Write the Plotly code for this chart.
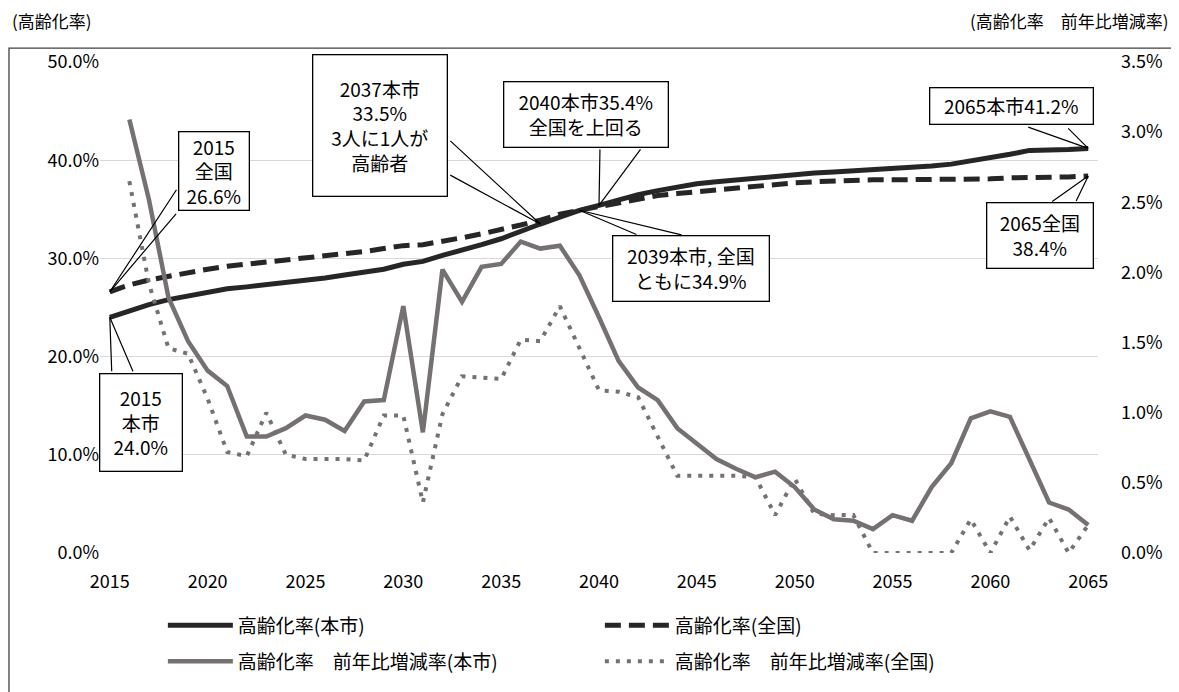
import plotly.graph_objects as go

years = list(range(2015, 2066))
change_years = list(range(2016, 2066))

# 高齢化率 (本市) %
city_rate = [24.0, 24.7, 25.3, 25.8, 26.2, 26.5, 26.9, 27.1, 27.3, 27.5,
             27.8, 28.0, 28.3, 28.6, 28.9, 29.4, 29.7, 30.3, 30.8, 31.4,
             32.0, 32.8, 33.5, 34.2, 34.9, 35.4, 36.0, 36.5, 36.9, 37.3,
             37.6, 37.8, 38.0, 38.2, 38.4, 38.5, 38.7, 38.8, 38.9, 39.0,
             39.1, 39.2, 39.4, 39.6, 39.9, 40.3, 40.6, 41.0, 41.0, 41.1,
             41.2]
# 高齢化率 (全国) %
nation_rate = [26.6, 27.3, 27.8, 28.2, 28.6, 28.9, 29.2, 29.4, 29.7, 29.9,
               30.1, 30.3, 30.5, 30.7, 31.0, 31.3, 31.4, 31.7, 32.1, 32.5,
               32.9, 33.4, 33.9, 34.5, 34.9, 35.3, 35.7, 36.1, 36.4, 36.6,
               36.8, 37.0, 37.2, 37.4, 37.5, 37.7, 37.8, 37.9, 38.0, 38.0,
               38.0, 38.0, 38.0, 38.0, 38.1, 38.1, 38.2, 38.2, 38.3, 38.3,
               38.4]
# 前年比増減率 (本市) %
city_change = [3.09, 2.52, 1.82, 1.51, 1.30, 1.19, 0.83, 0.83, 0.89, 0.98,
               0.95, 0.87, 1.08, 1.09, 1.76, 0.86, 2.02, 1.79, 2.04, 2.06,
               2.22, 2.17, 2.19, 1.98, 1.68, 1.37, 1.18, 1.09, 0.89, 0.78,
               0.67, 0.60, 0.54, 0.58, 0.47, 0.31, 0.24, 0.23, 0.17, 0.27,
               0.23, 0.47, 0.64, 0.96, 1.01, 0.97, 0.66, 0.36, 0.31, 0.20]
# 前年比増減率 (全国) %
nation_change = [2.65, 1.92, 1.46, 1.42, 1.10, 0.72, 0.69, 1.00, 0.70, 0.67,
                 0.67, 0.67, 0.66, 0.98, 0.98, 0.36, 0.99, 1.26, 1.25, 1.24,
                 1.52, 1.51, 1.76, 1.46, 1.16, 1.15, 1.11, 0.83, 0.55, 0.55,
                 0.55, 0.55, 0.54, 0.27, 0.53, 0.28, 0.27, 0.27, 0.00, 0.00,
                 0.00, 0.00, 0.00, 0.24, 0.00, 0.26, 0.02, 0.25, 0.00, 0.20]

left_ticks = [0, 10, 20, 30, 40, 50]
left_labels = ["0.0%", "10.0%", "20.0%", "30.0%", "40.0%", "50.0%"]
right_ticks = [0, 0.5, 1.0, 1.5, 2.0, 2.5, 3.0, 3.5]
right_labels = ["0.0%", "0.5%", "1.0%", "1.5%", "2.0%", "2.5%", "3.0%", "3.5%"]
x_ticks = list(range(2015, 2070, 5))

names = ["高齢化率(本市)", "高齢化率(全国)",
         "高齢化率　前年比増減率(本市)", "高齢化率　前年比増減率(全国)"]

FONT = "Noto Sans CJK JP, Noto Sans, sans-serif"
BLACK = "#262626"
GRAY = "#767171"

fig = go.Figure()
fig.add_trace(go.Scatter(x=years, y=city_rate, name=names[0], mode="lines",
                         legend="legend", line=dict(color=BLACK, width=5)))
fig.add_trace(go.Scatter(x=years, y=nation_rate, name=names[1], mode="lines",
                         legend="legend", line=dict(color=BLACK, width=5, dash="16px,8px")))
fig.add_trace(go.Scatter(x=change_years, y=city_change, name=names[2], mode="lines",
                         legend="legend2", yaxis="y2", line=dict(color=GRAY, width=4.5)))
fig.add_trace(go.Scatter(x=change_years, y=nation_change, name=names[3], mode="lines",
                         legend="legend2", yaxis="y2",
                         line=dict(color=GRAY, width=4, dash="4px,7px")))

ann_font = dict(family=FONT, size=19, color="#000")
# (x, y, text, box offset, box size, wedge base offsets) — offsets in px from the point
callouts = [
    (2015, 26.6, "2015<br>全国<br>26.6%", (104, -121), (72, 80), [(68, -104), (68, -80)]),
    (2037, 33.5, "2037本市<br>33.5%<br>3人に1人が<br>高齢者", (-160, -99), (136, 143),
     [(-92, -85), (-92, -50)]),
    (2040, 35.4, "2040本市35.4%<br>全国を上回る", (-13, -91), (166, 67), [(1, -58), (43, -58)]),
    (2039, 34.9, "2039本市, 全国<br>ともに34.9%", (112, 58), (158, 67), [(59, 25), (104, 25)]),
    (2065, 41.2, "2065本市41.2%", (-77, -42), (165, 38), [(-62, -22), (-22, -22)]),
    (2065, 38.4, "2065全国<br>38.4%", (-48, 60), (108, 67), [(-38, 27), (-13, 27)]),
    (2015, 24.0, "2015<br>本市<br>24.0%", (31, 105), (84, 99), [(2, 56), (24, 56)]),
]
for (cx, cy, txt, boff, bsize, wedge) in callouts:
    for (wx, wy) in wedge:
        fig.add_annotation(x=cx, y=cy, xref="x", yref="y", text="", showarrow=True,
                           arrowhead=0, arrowwidth=1.2, arrowcolor="#000",
                           ax=wx, ay=wy, standoff=0, startstandoff=0,
                           width=1, height=1, font=dict(size=1))
    fig.add_annotation(x=cx, y=cy, xref="x", yref="y", text=txt, showarrow=True,
                       arrowhead=0, arrowwidth=0.1, arrowcolor="rgba(0,0,0,0)",
                       ax=boff[0], ay=boff[1], width=bsize[0] - 3, height=bsize[1] - 3,
                       font=ann_font, bgcolor="white", bordercolor="#000",
                       borderwidth=1.3, borderpad=0, align="center", valign="middle")

fig.add_annotation(x=-0.09, xref="paper", y=1.0848, yref="paper", text="(高齢化率)",
                   showarrow=False, xanchor="left", yanchor="middle",
                   font=dict(family=FONT, size=17, color="#000"))
fig.add_annotation(xref="paper", x=1.073, y=1.0848, yref="paper",
                   text="(高齢化率　前年比増減率)", showarrow=False,
                   xanchor="right", yanchor="middle",
                   font=dict(family=FONT, size=17, color="#000"))

# outer chart border
fig.add_shape(type="rect", xref="paper", yref="paper",
              x0=-0.0912, x1=1.0772, y0=-0.29, y1=1.0283,
              line=dict(color="#404040", width=1.3), layer="below")

leg_common = dict(orientation="h", xanchor="left", yanchor="top",
                  entrywidth=357, entrywidthmode="pixels", itemwidth=65,
                  font=dict(family=FONT, size=19, color="#000"),
                  bgcolor="rgba(0,0,0,0)")

fig.update_layout(
    width=1171, height=684,
    margin=dict(l=92, r=81, t=54, b=135),
    paper_bgcolor="white", plot_bgcolor="white",
    font=dict(family=FONT, size=17, color="#000"),
    showlegend=True,
    legend=dict(x=0.063, y=-0.109, **leg_common),
    legend2=dict(x=0.063, y=-0.182, **leg_common),
    xaxis=dict(range=[2014.5, 2065.5], tickvals=x_ticks, ticktext=[str(v) for v in x_ticks],
               showgrid=False, zeroline=False, showline=False, ticks="",
               tickfont=dict(size=18), automargin=False, ticklabelstandoff=16),
    yaxis=dict(range=[0, 50], tickvals=left_ticks, ticktext=left_labels,
               showgrid=True, gridcolor="#d9d9d9", gridwidth=1, zeroline=False,
               showline=False, ticks="", tickfont=dict(size=18), automargin=False),
    yaxis2=dict(range=[0, 3.5], tickvals=right_ticks, ticktext=right_labels,
                overlaying="y", side="right", showgrid=False, zeroline=False,
                showline=False, ticks="", tickfont=dict(size=18), automargin=False,
                ticklabelstandoff=22),
)

fig.write_html("out.html")
